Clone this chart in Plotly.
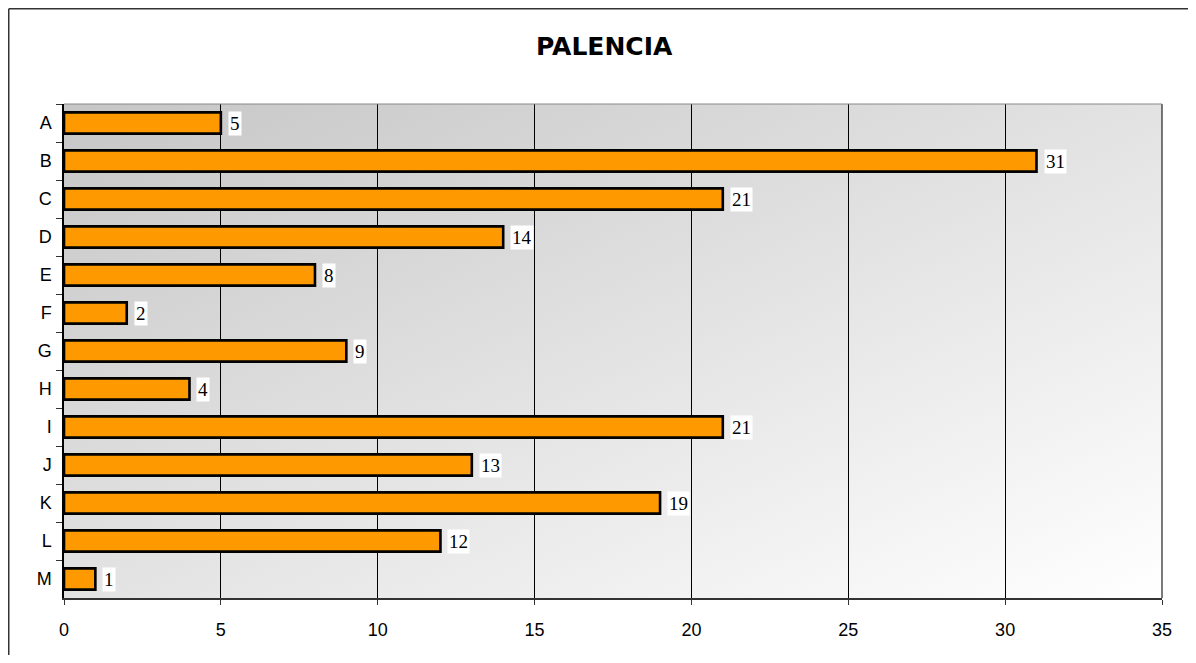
import base64
import plotly.graph_objects as go

categories = ["A", "B", "C", "D", "E", "F", "G", "H", "I", "J", "K", "L", "M"]
values = [5, 31, 21, 14, 8, 2, 9, 4, 21, 13, 19, 12, 1]
x_ticks = [0, 5, 10, 15, 20, 25, 30, 35]
title_text = "PALENCIA"

# page body has an 8px margin, so the figure is drawn 8px in from the page edge
W, H = 1180, 647
L, R, T, B = 56, 26, 96, 57
pw, ph = W - L - R, H - T - B

svg = ('<svg xmlns="http://www.w3.org/2000/svg" width="100" height="100" preserveAspectRatio="none">'
       '<defs><linearGradient id="g" x1="0" y1="0" x2="1" y2="1">'
       '<stop offset="0" stop-color="#c6c6c6"/><stop offset="1" stop-color="#ffffff"/>'
       '</linearGradient></defs><rect width="100" height="100" fill="url(#g)"/></svg>')
svg_uri = "data:image/svg+xml;base64," + base64.b64encode(svg.encode()).decode()

fig = go.Figure()
fig.add_trace(go.Bar(
    x=values, y=categories, orientation="h",
    marker=dict(color="#FF9900", line=dict(color="black", width=2.6)),
    width=0.56,
    hoverinfo="x+y",
))

for c, v in zip(categories, values):
    fig.add_annotation(
        x=v, y=c, xref="x", yref="y", text=str(v), showarrow=False,
        xanchor="left", yanchor="middle", xshift=7,
        bgcolor="white", borderpad=1,
        font=dict(family="Liberation Serif, Times New Roman, serif", size=19, color="black"),
    )

fig.add_annotation(
    x=(596 - L) / pw, y=1 + (T - 39) / ph, xref="paper", yref="paper",
    text="<b>" + title_text + "</b>", showarrow=False, xanchor="center", yanchor="middle",
    font=dict(family="DejaVu Sans, Verdana, sans-serif", size=25, color="black"),
)

# outer frame (left and top edges visible)
fig.add_shape(type="line", xref="paper", yref="paper",
              x0=(0.75 - L) / pw, x1=(0.75 - L) / pw, y0=-(B) / ph, y1=1 + (T - 0.75) / ph,
              line=dict(color="#333333", width=1.5), layer="above")
fig.add_shape(type="line", xref="paper", yref="paper",
              x0=(0.75 - L) / pw, x1=(W - L) / pw, y0=1 + (T - 0.75) / ph, y1=1 + (T - 0.75) / ph,
              line=dict(color="#333333", width=1.5), layer="above")
# right plot border
fig.add_shape(type="line", xref="paper", yref="paper", x0=1, x1=1, y0=0, y1=1,
              line=dict(color="#222222", width=1.2))
# top plot border
fig.add_shape(type="line", xref="paper", yref="paper", x0=0, x1=1, y0=1, y1=1,
              line=dict(color="#888888", width=1))

fig.add_layout_image(dict(
    source=svg_uri, xref="paper", yref="paper", x=0, y=1, sizex=1, sizey=1,
    sizing="stretch", xanchor="left", yanchor="top", layer="below",
))

fig.update_layout(
    width=W, height=H,
    margin=dict(l=L, r=R, t=T, b=B),
    paper_bgcolor="white",
    plot_bgcolor="rgba(0,0,0,0)",
    showlegend=False,
    bargap=0.44,
    xaxis=dict(
        range=[0, 35], tickvals=x_ticks, ticktext=[str(t) for t in x_ticks],
        showgrid=True, gridcolor="black", gridwidth=1,
        zeroline=False,
        showline=True, linecolor="#333333", linewidth=2,
        ticks="outside", ticklen=5, tickcolor="#333333",
        ticklabelstandoff=9,
        tickfont=dict(family="Liberation Sans, Arial, sans-serif", size=18, color="black"),
        fixedrange=True,
    ),
    yaxis=dict(
        categoryorder="array", categoryarray=categories, autorange="reversed",
        showgrid=False, zeroline=False,
        showline=True, linecolor="black", linewidth=1.5,
        ticks="outside", ticklen=6, tickcolor="#333333", tickson="boundaries",
        ticklabelstandoff=7,
        tickfont=dict(family="Liberation Sans, Arial, sans-serif", size=18, color="black"),
        fixedrange=True,
    ),
)

fig.write_html("out.html")
